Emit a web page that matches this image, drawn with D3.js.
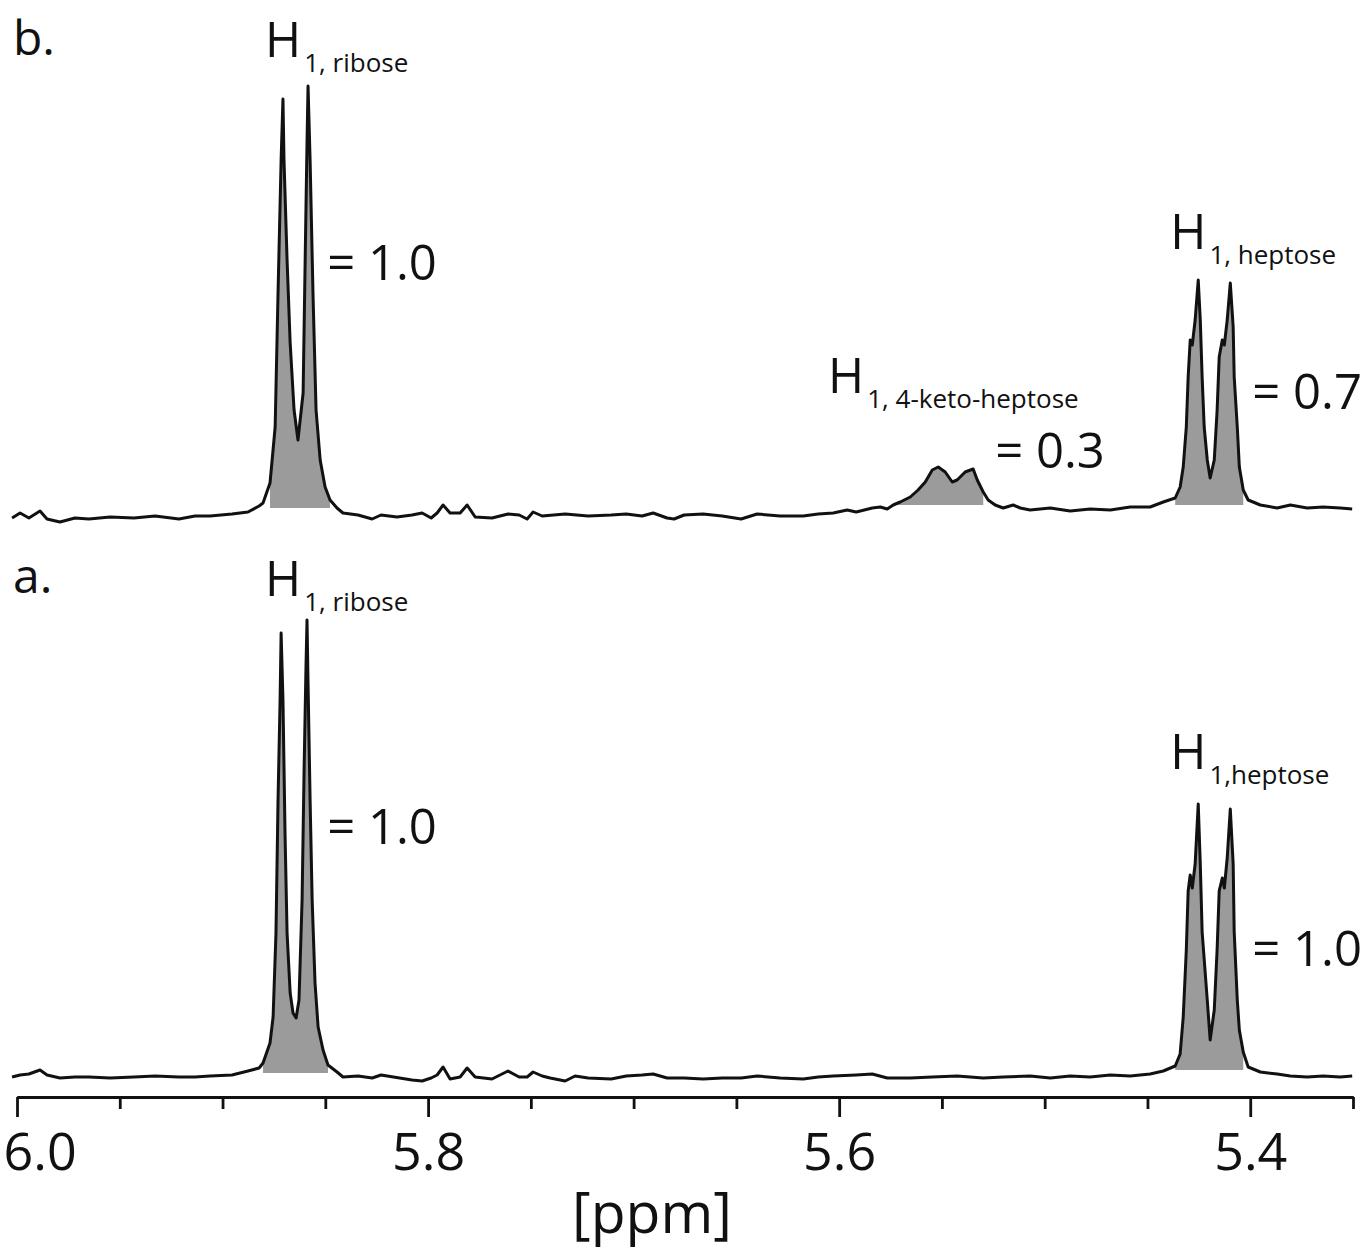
<!DOCTYPE html>
<html><head><meta charset="utf-8">
<script src="https://cdn.jsdelivr.net/npm/d3@7"></script>
<style>body{margin:0;background:#fff}svg text{font-family:"Open Sans",sans-serif;fill:#111}</style></head>
<body><svg id="c" width="1363" height="1260"></svg>
<script>
// ---- data ----
const majorTicks = [6.0, 5.8, 5.6, 5.4];
const minorTicks = [5.95, 5.9, 5.85, 5.75, 5.7, 5.65, 5.55, 5.5, 5.45, 5.35];
const tickLabels = ["6.0", "5.8", "5.6", "5.4"];
const axisTitle = "[ppm]";

// spectrum b (ppm, intensity a.u.)
const specB = [
 [6.0024,2],[5.9985,7],[5.9942,2],[5.9888,9],[5.9854,1],[5.9791,-2],[5.9718,2],[5.9650,1],[5.9547,3],
 [5.9431,2],[5.9328,4],[5.9212,1],[5.9134,4],[5.9061,4],[5.8954,6],[5.8876,8],[5.8822,14],[5.8803,17],
 [5.8769,37],[5.8744,93],[5.8730,227],[5.8715,360],[5.8706,421],[5.8701,360],[5.8686,260],[5.8671,177],
 [5.8652,110],[5.8633,80],[5.8608,127],[5.8598,260],[5.8589,377],[5.8584,434],[5.8574,360],[5.8560,227],
 [5.8545,110],[5.8525,60],[5.8501,33],[5.8477,20],[5.8443,12],[5.8414,7],[5.8341,5],[5.8272,1],[5.8229,5],
 [5.8151,3],[5.8078,5],[5.8029,7],[5.7985,2],[5.7956,7],[5.7927,15],[5.7893,7],[5.7844,7],[5.7810,15],
 [5.7771,3],[5.7689,2],[5.7611,6],[5.7557,5],[5.7518,1],[5.7489,8],[5.7445,4],[5.7333,6],[5.7221,4],
 [5.7109,5],[5.7036,6],[5.6959,4],[5.6905,7],[5.6837,2],[5.6803,1],[5.6754,5],[5.6662,6],[5.6569,4],
 [5.6477,1],[5.6399,6],[5.6287,4],[5.6175,4],[5.6102,6],[5.6029,7],[5.5961,10],[5.5917,8],[5.5839,12],
 [5.5800,13],[5.5766,11],[5.5737,15],[5.5703,18],[5.5654,23],[5.5616,30],[5.5581,38],[5.5547,50],
 [5.5518,53],[5.5484,48],[5.5450,38],[5.5426,40],[5.5387,48],[5.5348,51],[5.5328,40],[5.5299,28],
 [5.5275,20],[5.5241,15],[5.5202,12],[5.5153,15],[5.5119,12],[5.5071,10],[5.4973,12],[5.4876,9],
 [5.4779,11],[5.4681,10],[5.4584,13],[5.4487,13],[5.4423,18],[5.4365,22],[5.4341,33],[5.4326,53],
 [5.4311,93],[5.4302,143],[5.4292,180],[5.4282,175],[5.4268,200],[5.4253,240],[5.4243,200],[5.4234,143],
 [5.4224,93],[5.4209,60],[5.4195,42],[5.4175,60],[5.4161,110],[5.4151,163],[5.4136,180],[5.4126,175],
 [5.4112,200],[5.4097,237],[5.4083,193],[5.4078,143],[5.4063,93],[5.4053,53],[5.4034,30],[5.4010,20],
 [5.3951,15],[5.3869,12],[5.3805,15],[5.3723,12],[5.3645,13],[5.3562,12],[5.3504,11]
];

// spectrum a (ppm, intensity a.u.)
const specA = [
 [6.0024,3],[5.9985,5],[5.9942,6],[5.9888,10],[5.9854,5],[5.9791,2],[5.9718,3],[5.9650,3],[5.9547,2],
 [5.9431,3],[5.9328,4],[5.9212,3],[5.9134,3],[5.9061,4],[5.8954,5],[5.8876,9],[5.8822,12],[5.8803,17],
 [5.8769,37],[5.8754,63],[5.8740,147],[5.8730,280],[5.8720,380],[5.8715,447],[5.8706,380],[5.8696,247],
 [5.8686,147],[5.8671,87],[5.8657,67],[5.8642,62],[5.8628,80],[5.8613,180],[5.8603,313],[5.8594,413],
 [5.8589,460],[5.8584,397],[5.8574,280],[5.8564,180],[5.8550,97],[5.8535,53],[5.8511,30],[5.8487,15],
 [5.8443,8],[5.8414,3],[5.8341,4],[5.8272,2],[5.8229,5],[5.8078,0],[5.8029,-1],[5.7985,2],[5.7956,5],
 [5.7927,13],[5.7893,1],[5.7844,3],[5.7810,12],[5.7771,3],[5.7689,1],[5.7650,5],[5.7611,9],[5.7557,3],
 [5.7518,3],[5.7489,8],[5.7445,4],[5.7406,2],[5.7333,-1],[5.7285,4],[5.7221,2],[5.7109,1],[5.7036,4],
 [5.6959,5],[5.6905,6],[5.6837,2],[5.6754,2],[5.6662,1],[5.6569,2],[5.6477,2],[5.6399,4],[5.6287,2],
 [5.6175,1],[5.6102,3],[5.6029,4],[5.5917,5],[5.5839,6],[5.5766,2],[5.5654,2],[5.5547,3],[5.5426,4],
 [5.5299,2],[5.5202,3],[5.5071,4],[5.4973,2],[5.4876,4],[5.4779,3],[5.4681,5],[5.4584,4],[5.4487,6],
 [5.4423,9],[5.4365,14],[5.4341,26],[5.4326,63],[5.4311,130],[5.4302,189],[5.4292,205],[5.4282,192],
 [5.4268,216],[5.4253,276],[5.4243,216],[5.4234,148],[5.4209,80],[5.4195,40],[5.4175,70],[5.4161,131],
 [5.4151,189],[5.4136,202],[5.4126,192],[5.4112,222],[5.4097,271],[5.4083,216],[5.4078,148],[5.4063,80],
 [5.4053,50],[5.4034,28],[5.4010,13],[5.3951,8],[5.3869,6],[5.3805,4],[5.3723,3],[5.3645,4],[5.3562,3],
 [5.3504,4]
];

// integrated regions: [from ppm, to ppm, base intensity]
const integralsB = [[5.8788, 5.8477, 12], [5.5762, 5.5289, 15], [5.4365, 5.4024, 15]];
const integralsA = [[5.8803, 5.8477, 7], [5.4365, 5.4024, 10]];
const integralValuesB = ["= 1.0", "= 0.3", "= 0.7"];
const integralValuesA = ["= 1.0", "= 1.0"];
const peakNamesB = ["1, ribose", "1, 4-keto-heptose", "1, heptose"];
const peakNamesA = ["1, ribose", "1,heptose"];
const panelLabels = ["b.", "a."];

// ---- drawing ----
const svg = d3.select("#c");
const x = d3.scaleLinear().domain([6.0, 5.35]).range([17, 1353]);
const yB = d3.scaleLinear().domain([0, 440]).range([520, 80]);
const yA = d3.scaleLinear().domain([0, 460]).range([1080, 620]);

function drawPanel(spec, y, integrals) {
  integrals.forEach(([a, b, base]) => {
    const pts = spec.filter(d => d[0] <= a && d[0] >= b);
    const area = d3.area().x(d => x(d[0])).y0(y(base)).y1(d => y(Math.max(d[1], base)));
    svg.append("path").attr("d", area(pts)).attr("fill", "#9b9b9b");
  });
  const line = d3.line().x(d => x(d[0])).y(d => y(d[1]));
  svg.append("path").attr("d", line(spec)).attr("fill", "none")
    .attr("stroke", "#111").attr("stroke-width", 3).attr("stroke-linejoin", "round");
}
drawPanel(specB, yB, integralsB);
drawPanel(specA, yA, integralsA);

// axis
const axisY = 1097;
const gMinor = svg.append("g").attr("transform", `translate(0,${axisY})`)
  .call(d3.axisBottom(x).tickValues(minorTicks).tickSize(12).tickSizeOuter(0).tickFormat(""));
const gMajor = svg.append("g").attr("transform", `translate(0,${axisY})`)
  .call(d3.axisBottom(x).tickValues(majorTicks).tickSize(20).tickSizeOuter(0).tickFormat((d, i) => tickLabels[i]));
[gMinor, gMajor].forEach(g => {
  g.selectAll("path.domain").attr("stroke", "#111").attr("stroke-width", 2.8);
  g.selectAll(".tick line").attr("stroke", "#111").attr("stroke-width", 2.8);
});
gMajor.selectAll(".tick text").attr("font-size", 52).attr("font-family", "Open Sans")
  .attr("fill", "#111").attr("y", 0).attr("dy", 0).attr("transform", "translate(0,73)");
gMajor.selectAll(".tick text").filter((d, i) => i === 0).attr("text-anchor", "start").attr("x", -14);

svg.append("text").attr("x", 652).attr("y", 1233).attr("text-anchor", "middle")
  .attr("font-size", 57).text(axisTitle);

// annotations
function hLabel(px, py, sub) {
  const t = svg.append("text").attr("x", px).attr("y", py).attr("font-size", 49);
  t.append("tspan").text("H");
  t.append("tspan").attr("font-size", 26).attr("dy", 15).attr("dx", 3).text(sub);
}
function val(px, py, s) {
  svg.append("text").attr("x", px).attr("y", py).attr("font-size", 49).text(s);
}
svg.append("text").attr("x", 13).attr("y", 55).attr("font-size", 48).text(panelLabels[0]);
svg.append("text").attr("x", 13).attr("y", 593).attr("font-size", 48).text(panelLabels[1]);

hLabel(x(5.8793), 57, peakNamesB[0]);
hLabel(x(5.6054), 393, peakNamesB[1]);
hLabel(x(5.4389), 249, peakNamesB[2]);
val(x(5.8491), 280, integralValuesB[0]);
val(x(5.5241), 468, integralValuesB[1]);
val(x(5.3990), 409, integralValuesB[2]);

hLabel(x(5.8793), 596, peakNamesA[0]);
hLabel(x(5.4389), 769, peakNamesA[1]);
val(x(5.8491), 844, integralValuesA[0]);
val(x(5.3990), 966, integralValuesA[1]);
</script></body></html>
